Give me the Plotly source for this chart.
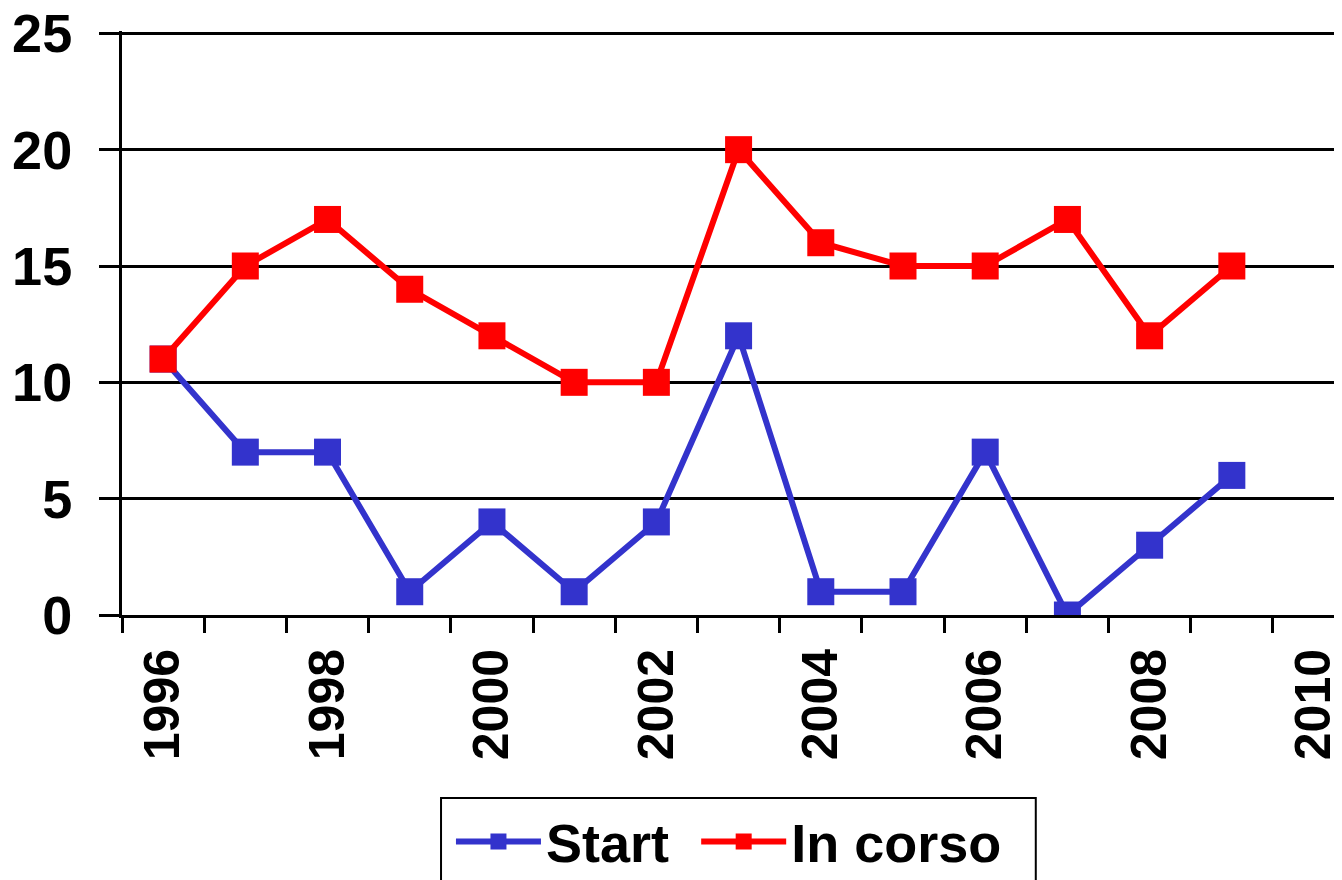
import plotly.graph_objects as go

years = list(range(1996, 2010))
start = [11, 7, 7, 1, 4, 1, 4, 12, 1, 1, 7, 0, 3, 6]
in_corso = [11, 15, 17, 14, 12, 10, 10, 20, 16, 15, 15, 17, 12, 15]
x_label_years = [1996, 1998, 2000, 2002, 2004, 2006, 2008, 2010]
y_ticks = [0, 5, 10, 15, 20, 25]

FONT = "Liberation Sans, Arial, sans-serif"
LEG_FONT = dict(size=54, family=FONT, color="black", weight="bold")

fig = go.Figure()
fig.add_trace(go.Scatter(
    x=years, y=start, name="Start", mode="lines+markers",
    line=dict(color="#3333CC", width=6),
    marker=dict(symbol="square", size=27, color="#3333CC"),
    legend="legend",
))
fig.add_trace(go.Scatter(
    x=years, y=in_corso, name="In corso", mode="lines+markers",
    line=dict(color="#FF0000", width=6),
    marker=dict(symbol="square", size=27, color="#FF0000"),
    legend="legend2",
))

leg_common = dict(
    orientation="h", xanchor="left", y=-0.313, yanchor="top",
    bordercolor="rgba(0,0,0,0)", borderwidth=2, bgcolor="rgba(0,0,0,0)",
    font=LEG_FONT, itemwidth=85,
)

fig.update_layout(
    width=1334, height=872,
    margin=dict(l=114, r=0, t=23, b=265, autoexpand=False),
    paper_bgcolor="white", plot_bgcolor="white",
    font=dict(family=FONT, color="black"),
    showlegend=True,
    legend=dict(x=0.268, **leg_common),
    legend2=dict(x=0.469, **leg_common),
    shapes=[dict(
        type="rect", xref="paper", yref="paper",
        x0=0.2615, x1=0.749, y0=-0.3134, y1=-0.47,
        line=dict(color="black", width=2), fillcolor="rgba(0,0,0,0)",
        layer="below",
    )],
    xaxis=dict(
        range=[1995.5, 2010.34],
        tickmode="array", tickvals=x_label_years,
        ticktext=[str(v) for v in x_label_years],
        tickangle=-90, ticks="",
        tickfont=dict(size=50, family=FONT, weight="bold"),
        ticklabelstandoff=11,
        showline=True, linecolor="black", linewidth=3,
        showgrid=False, zeroline=False,
        minor=dict(tick0=1995.5, dtick=1, ticks="outside", ticklen=15,
                   tickwidth=3, tickcolor="black", showgrid=False),
    ),
    yaxis=dict(
        range=[0, 25.1],
        tickmode="array", tickvals=y_ticks,
        ticks="outside", ticklen=20, tickwidth=2.5, tickcolor="black",
        tickfont=dict(size=54, family=FONT, weight="bold"),
        ticklabelstandoff=16, ticklabeloverflow="allow",
        showline=True, linecolor="black", linewidth=3,
        showgrid=True, gridcolor="black", gridwidth=2.5,
        zeroline=False,
    ),
)

fig.write_html("out.html")
